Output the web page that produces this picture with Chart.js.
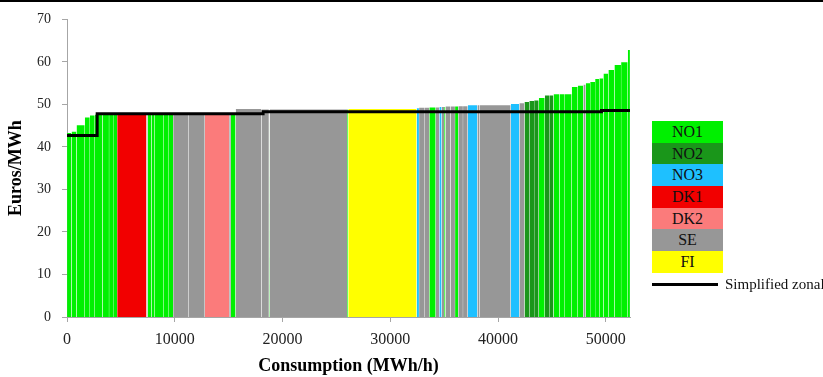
<!DOCTYPE html>
<html>
<head>
<meta charset="utf-8">
<script src="https://cdn.jsdelivr.net/npm/chart.js@4.4.0/dist/chart.umd.min.js"></script>
<style>
html,body{margin:0;padding:0;width:823px;height:377px;overflow:hidden;background:#fff;}
#wrap{position:relative;width:823px;height:377px;overflow:hidden;}
canvas{position:absolute;left:0;top:0;}
#topline{position:absolute;left:0;top:0;width:823px;height:2px;background:#000;}
#legend{position:absolute;left:652px;top:121px;font-family:'Liberation Serif','Times New Roman',serif;}
.lb{width:71px;height:21.7px;line-height:22px;text-align:center;font-size:16px;color:#111;}
#lline{position:absolute;left:652px;top:283px;width:66px;height:3px;background:#000;}
#ltext{position:absolute;left:725px;top:276px;white-space:nowrap;font-family:'Liberation Serif','Times New Roman',serif;font-size:15px;color:#111;}
</style>
</head>
<body>
<div id="wrap">
<canvas id="c" width="823" height="377"></canvas>
<div id="topline"></div>
<div id="legend"></div>
<div id="lline"></div>
<div id="ltext">Simplified zonal price</div>
</div>
<script>
// Zones (legend order) and colours
const zoneNames  = ['NO1', 'NO2', 'NO3', 'DK1', 'DK2', 'SE', 'FI'];
const zoneColors = ['#00f000', '#1a961a', '#1ec0ff', '#f20000', '#fb7b7b', '#979797', '#ffff00'];

// Supply-curve blocks: zone, width (MWh/h) and price (Euros/MWh), in merit order
const barZone = ['NO1','NO1','NO1','NO1','NO1','NO1','NO1','NO1','NO1','DK1',
                 'SE','NO1','NO1','NO1','NO1','NO1','SE','SE','DK2','SE',
                 'NO1','SE','SE','NO1','SE','NO1','FI','NO3','SE','SE',
                 'NO1','SE','NO3','SE','NO1','SE','SE','NO1','SE','SE',
                 'NO3','SE','SE','NO3','SE','NO2','NO2','NO2','NO1','NO2',
                 'NO2','NO1','NO1','NO1','NO1','NO1','SE','NO1','NO1','NO1',
                 'NO1','NO1','NO1','NO1','NO1','NO1'];
const barWidth = [420,460,770,470,460,720,600,380,370,2730,
                  100,370,250,830,460,460,1450,1490,2260,160,
                  440,2410,680,60,7200,100,6350,220,480,470,
                  600,330,220,230,120,480,410,300,440,440,
                  890,220,2880,800,470,450,450,430,560,410,
                  400,550,500,640,560,520,220,410,460,390,
                  380,460,560,620,620,210];
const barPrice = [43.3,43.6,45.1,46.9,47.4,47.6,47.6,47.6,47.6,47.6,
                  47.6,47.7,47.7,47.7,47.7,47.7,47.8,47.8,47.8,47.9,
                  47.9,48.9,48.8,48.8,48.8,48.8,48.9,49.1,49.2,49.2,
                  49.3,49.3,49.4,49.4,49.4,49.5,49.5,49.5,49.6,49.6,
                  49.8,49.8,49.8,50.1,50.3,50.6,50.8,50.9,51.5,52.1,
                  52.1,52.4,52.4,52.4,54.1,54.4,54.6,55.0,55.3,56.0,
                  56.1,57.2,58.1,59.3,59.9,62.8];

// Simplified zonal price (step line)
const lineX = [0, 2800, 18200, 49600, 52250];
const lineY = [42.7, 47.8, 48.3, 48.6, 48.6];

// Axis ticks
const xTicks = [0, 10000, 20000, 30000, 40000, 50000];
const yTicks = [0, 10, 20, 30, 40, 50, 60, 70];

// Legend (HTML)
const leg = document.getElementById('legend');
zoneNames.forEach((n, i) => {
  const d = document.createElement('div');
  d.className = 'lb';
  d.style.background = zoneColors[i];
  d.textContent = n;
  leg.appendChild(d);
});

// Build datasets
const datasets = [];
datasets.push({
  label: 'Simplified zonal price',
  data: lineX.map((x, i) => ({x: x, y: lineY[i]})),
  borderColor: '#000',
  borderWidth: 3,
  stepped: true,
  pointRadius: 0,
  fill: false,
  order: 0
});
const gap = 7;
let cum = 0;
barWidth.forEach((w, i) => {
  const s = cum, e = cum + w;
  cum = e;
  const col = zoneColors[zoneNames.indexOf(barZone[i])];
  datasets.push({
    label: barZone[i],
    data: [{x: s + gap, y: barPrice[i]}, {x: e - gap, y: barPrice[i]}],
    borderColor: 'rgba(0,0,0,0)',
    borderWidth: 0,
    backgroundColor: col,
    fill: 'origin',
    pointRadius: 0,
    tension: 0,
    order: 1
  });
});

const axisColor = '#a6a6a6';
new Chart(document.getElementById('c'), {
  type: 'line',
  data: { datasets },
  options: {
    responsive: false,
    animation: false,
    events: [],
    layout: { padding: { left: 0, top: 18.7, right: 193, bottom: 0 } },
    plugins: { legend: { display: false }, tooltip: { enabled: false } },
    scales: {
      x: {
        type: 'linear',
        min: 0, max: cum,
        afterBuildTicks: s => { s.ticks = xTicks.map(v => ({value: v})); },
        afterFit: s => { s.height = 60; },
        ticks: { includeBounds: false, color: '#222', padding: 8, maxRotation: 0,
                 font: { family: "'Liberation Serif', 'Times New Roman', serif", size: 16 },
                 callback: v => String(v) },
        grid: { drawOnChartArea: false, tickLength: 5, color: axisColor },
        border: { color: axisColor, width: 1 },
        title: { display: true, text: 'Consumption (MWh/h)', color: '#000',
                 font: { family: "'Liberation Serif', 'Times New Roman', serif", size: 18, weight: 'bold' },
                 padding: { top: 0, bottom: 0 } }
      },
      y: {
        min: 0, max: 70,
        afterBuildTicks: s => { s.ticks = yTicks.map(v => ({value: v})); },
        afterFit: s => { s.width = 67; },
        ticks: { color: '#222', padding: 11,
                 font: { family: "'Liberation Serif', 'Times New Roman', serif", size: 14 },
                 callback: v => String(v) },
        grid: { drawOnChartArea: false, tickLength: 5, color: axisColor },
        border: { color: axisColor, width: 1 },
        title: { display: true, text: 'Euros/MWh', color: '#000',
                 font: { family: "'Liberation Serif', 'Times New Roman', serif", size: 18, weight: 'bold' },
                 padding: { top: 6, bottom: 0 } }
      }
    }
  }
});
</script>
</body>
</html>
